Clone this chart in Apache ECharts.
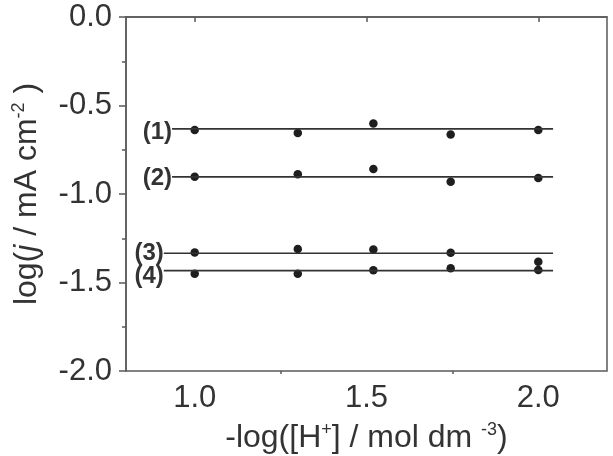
<!DOCTYPE html>
<html>
<head>
<meta charset="UTF-8">
<title></title>
<script src="https://cdn.jsdelivr.net/npm/echarts@6/dist/echarts.min.js"></script>
<style>
    html, body { margin: 0; padding: 0; background: #fff; }
    #chart { width: 613px; height: 456px; }
</style>
</head>
<body>
<div id="chart"></div>
<script>
    // -log([H+]) values
    const phVals = [1.0, 1.30, 1.52, 1.745, 2.0];
    // measured log(j)
    const run1 = [-0.639, -0.655, -0.602, -0.664, -0.639];
    const run2 = [-0.903, -0.889, -0.859, -0.931, -0.910];
    const run3 = [-1.330, -1.311, -1.313, -1.332, -1.383];
    const run4 = [-1.450, -1.450, -1.431, -1.420, -1.429];
    // fitted horizontal lines
    const fitLevel = [-0.632, -0.903, -1.335, -1.433];
    const fitStart = [0.934, 0.934, 0.910, 0.910];
    const fitEnd = 2.043;
    const runNames = ['(1)', '(2)', '(3)', '(4)'];
    const xMajor = [1.0, 1.5, 2.0];
    const xMinor = [1.25, 1.75];

    const runs = [run1, run2, run3, run4];
    const labelShift = [4, 2, 0, 6];
    const ink = '#1e1e1e';
    const frame = '#5a5a5a';

    let series = [];
    runs.forEach(function (vals, k) {
        series.push({
            type: 'line',
            data: [[fitStart[k], fitLevel[k]], [fitEnd, fitLevel[k]]],
            symbol: 'none',
            lineStyle: { color: '#333', width: 1.6 },
            markPoint: {
                symbol: 'circle', symbolSize: 0,
                data: [{ coord: [fitStart[k], fitLevel[k]] }],
                label: {
                    show: true, position: 'left', distance: 0,
                    offset: [0, labelShift[k]],
                    formatter: runNames[k],
                    fontFamily: 'Liberation Sans', fontWeight: 'bold',
                    fontSize: 24, color: '#333'
                }
            },
            silent: true
        });
        series.push({
            type: 'scatter',
            data: phVals.map(function (x, i) { return [x, vals[i]]; }),
            symbol: 'circle',
            symbolSize: 8.5,
            itemStyle: { color: ink, opacity: 1 }
        });
    });

    const tickFont = { fontFamily: 'Liberation Sans', fontSize: 31, color: '#333' };
    const titleRich = {
        a: { fontFamily: 'Liberation Sans', fontSize: 32, color: '#333', lineHeight: 34 },
        i: { fontFamily: 'Liberation Sans', fontSize: 32, fontStyle: 'italic', color: '#333', lineHeight: 34 },
        s: { fontFamily: 'Liberation Sans', fontSize: 18, color: '#333', verticalAlign: 'top', lineHeight: 34 }
    };

    let myChart = echarts.init(document.getElementById('chart'));
    let option = {
        animation: false,
        grid: {
            left: 126, right: 6, top: 17, bottom: 85,
            outerBoundsMode: 'none',
            show: true, borderColor: frame, borderWidth: 1.5
        },
        xAxis: [{
            type: 'value', min: 0.8, max: 2.2,
            axisLine: { lineStyle: { color: frame, width: 1.5 } },
            axisTick: { customValues: xMajor, length: 5, lineStyle: { color: frame, width: 1.5 } },
            axisLabel: Object.assign({
                customValues: xMajor, margin: 12,
                formatter: function (v) { return v.toFixed(1); }
            }, tickFont),
            splitLine: { show: false },
            name: '{a|-log([H}{s|+}{a|] / mol dm }{s|-3}{a|)}',
            nameLocation: 'middle',
            nameGap: 50,
            nameTextStyle: { rich: titleRich }
        }, {
            type: 'value', min: 0.8, max: 2.2, position: 'bottom',
            axisLine: { show: false },
            axisTick: { customValues: xMinor, length: 3, lineStyle: { color: frame, width: 1.5 } },
            axisLabel: { show: false },
            splitLine: { show: false }
        }],
        yAxis: {
            type: 'value', min: -2, max: 0, interval: 0.5,
            axisLine: { show: true, lineStyle: { color: frame, width: 1.5 } },
            axisTick: { show: true, length: 7, lineStyle: { color: frame, width: 1.5 } },
            minorTick: { show: true, splitNumber: 2, length: 4, lineStyle: { color: frame, width: 1.5 } },
            axisLabel: Object.assign({
                margin: 14,
                formatter: function (v) { return v.toFixed(1); }
            }, tickFont),
            splitLine: { show: false },
            minorSplitLine: { show: false },
            name: '{a|log(}{i|j}{a| / mA cm}{s|-2}{a| )}',
            nameLocation: 'middle',
            nameRotate: 90,
            nameGap: 82,
            nameTextStyle: { rich: titleRich }
        },
        series: series
    };

    option && myChart.setOption(option);
</script>
</body>
</html>
